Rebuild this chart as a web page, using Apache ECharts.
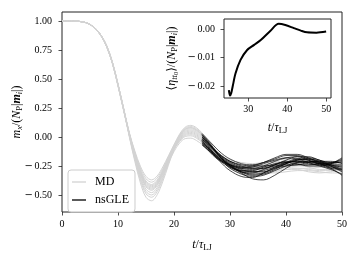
<!DOCTYPE html>
<html><head><meta charset="utf-8">
<script src="https://cdn.jsdelivr.net/npm/echarts@6/dist/echarts.min.js"></script>
<style>html,body{margin:0;padding:0;background:#fff}#c{width:360px;height:260px}</style>
</head><body><div id="c"></div>
<script>
// ---- data ----
const tMD = [0,2,4,5,6,7,8,9,10,11,12,13,14,15,16,17,18,19,20,21,22,23,24,25,26,27,28,30,32,34,36,38,40,42,44,46,48,50];
const md1  = [1,1,0.99,0.97,0.935,0.875,0.785,0.645,0.455,0.25,0.042,-0.12,-0.252,-0.34,-0.37,-0.336,-0.258,-0.163,-0.069,0.011,0.067,0.08,0.06,0.017,-0.039,-0.095,-0.151,-0.21,-0.25,-0.27,-0.26,-0.23,-0.20,-0.19,-0.21,-0.24,-0.26,-0.25];
const md2  = [1,1,0.99,0.97,0.935,0.87,0.78,0.64,0.45,0.24,0.038,-0.13,-0.268,-0.36,-0.39,-0.354,-0.272,-0.172,-0.067,0.025,0.085,0.10,0.08,0.035,-0.025,-0.085,-0.145,-0.20,-0.22,-0.23,-0.22,-0.21,-0.21,-0.23,-0.26,-0.28,-0.28,-0.26];
const md3  = [1,1,0.99,0.97,0.93,0.87,0.775,0.635,0.445,0.235,0.034,-0.14,-0.284,-0.38,-0.41,-0.372,-0.286,-0.181,-0.092,-0.024,0.022,0.03,0.01,-0.028,-0.074,-0.12,-0.166,-0.25,-0.30,-0.31,-0.30,-0.28,-0.26,-0.25,-0.25,-0.26,-0.27,-0.28];
const md4  = [1,1,0.99,0.97,0.935,0.875,0.785,0.645,0.455,0.245,0.032,-0.145,-0.292,-0.39,-0.42,-0.381,-0.293,-0.185,-0.085,-0.003,0.049,0.06,0.04,-0.001,-0.053,-0.105,-0.157,-0.24,-0.29,-0.32,-0.32,-0.30,-0.28,-0.27,-0.28,-0.29,-0.29,-0.29];
const md5  = [1,1,0.99,0.97,0.935,0.875,0.78,0.64,0.45,0.24,0.03,-0.15,-0.30,-0.40,-0.43,-0.39,-0.30,-0.19,-0.081,0.011,0.067,0.08,0.06,0.017,-0.039,-0.095,-0.151,-0.22,-0.26,-0.26,-0.24,-0.22,-0.22,-0.24,-0.25,-0.24,-0.22,-0.21];
const md6  = [1,1,0.99,0.97,0.93,0.87,0.775,0.635,0.44,0.23,0.028,-0.155,-0.308,-0.41,-0.44,-0.399,-0.307,-0.195,-0.104,-0.038,0.004,0.01,-0.01,-0.046,-0.088,-0.13,-0.172,-0.24,-0.28,-0.30,-0.31,-0.31,-0.30,-0.29,-0.29,-0.30,-0.31,-0.31];
const md7  = [1,1,0.99,0.97,0.935,0.875,0.78,0.64,0.45,0.24,0.026,-0.16,-0.316,-0.42,-0.45,-0.408,-0.314,-0.199,-0.094,-0.01,0.04,0.05,0.03,-0.01,-0.06,-0.11,-0.16,-0.23,-0.27,-0.29,-0.28,-0.26,-0.24,-0.22,-0.22,-0.23,-0.24,-0.24];
const md8  = [1,1,0.99,0.97,0.935,0.875,0.785,0.645,0.455,0.245,0.024,-0.165,-0.324,-0.43,-0.46,-0.417,-0.321,-0.204,-0.09,0.004,0.058,0.07,0.05,0.008,-0.046,-0.10,-0.154,-0.21,-0.24,-0.25,-0.25,-0.25,-0.26,-0.27,-0.27,-0.26,-0.24,-0.22];
const md9  = [1,1,0.99,0.97,0.93,0.87,0.775,0.635,0.445,0.235,0.02,-0.175,-0.34,-0.45,-0.48,-0.435,-0.335,-0.213,-0.109,-0.031,0.013,0.02,0.0,-0.037,-0.081,-0.125,-0.169,-0.26,-0.31,-0.33,-0.32,-0.29,-0.26,-0.24,-0.24,-0.25,-0.27,-0.30];
const md10 = [1,1,0.99,0.97,0.935,0.875,0.78,0.64,0.45,0.24,0.016,-0.185,-0.356,-0.47,-0.50,-0.453,-0.349,-0.222,-0.107,-0.017,0.031,0.04,0.02,-0.019,-0.067,-0.115,-0.163,-0.25,-0.29,-0.30,-0.28,-0.25,-0.22,-0.21,-0.22,-0.24,-0.26,-0.27];
const md11 = [1,1,0.99,0.97,0.93,0.87,0.775,0.635,0.44,0.23,0.012,-0.195,-0.372,-0.49,-0.52,-0.471,-0.363,-0.23,-0.126,-0.052,-0.014,-0.01,-0.03,-0.064,-0.102,-0.14,-0.178,-0.27,-0.31,-0.32,-0.31,-0.29,-0.28,-0.28,-0.30,-0.31,-0.30,-0.28];
const md12 = [1,1,0.99,0.97,0.935,0.875,0.785,0.645,0.455,0.245,0.006,-0.21,-0.396,-0.52,-0.55,-0.498,-0.384,-0.244,-0.102,0.018,0.076,0.09,0.07,0.026,-0.032,-0.09,-0.148,-0.22,-0.25,-0.24,-0.22,-0.20,-0.19,-0.20,-0.22,-0.24,-0.25,-0.24];

const tGLE = [25,26,27,28,29,30,32,34,36,38,40,42,44,46,48,50];
const g1  = [0.03,-0.02,-0.07,-0.12,-0.16,-0.19,-0.23,-0.24,-0.22,-0.19,-0.16,-0.16,-0.19,-0.22,-0.23,-0.21];
const g2  = [0.02,-0.03,-0.09,-0.15,-0.20,-0.24,-0.30,-0.33,-0.32,-0.28,-0.23,-0.19,-0.18,-0.20,-0.24,-0.28];
const g3  = [0.01,-0.04,-0.10,-0.16,-0.21,-0.25,-0.31,-0.36,-0.37,-0.33,-0.27,-0.22,-0.21,-0.23,-0.26,-0.27];
const g4  = [0.00,-0.05,-0.10,-0.15,-0.19,-0.22,-0.26,-0.27,-0.25,-0.21,-0.18,-0.17,-0.20,-0.24,-0.27,-0.28];
const g5  = [-0.01,-0.06,-0.11,-0.16,-0.20,-0.23,-0.27,-0.28,-0.27,-0.24,-0.20,-0.17,-0.17,-0.20,-0.22,-0.20];
const g6  = [-0.02,-0.07,-0.13,-0.18,-0.22,-0.26,-0.30,-0.31,-0.28,-0.24,-0.21,-0.21,-0.23,-0.24,-0.23,-0.19];
const g7  = [-0.03,-0.08,-0.14,-0.19,-0.23,-0.27,-0.32,-0.34,-0.33,-0.29,-0.25,-0.22,-0.22,-0.23,-0.25,-0.25];
const g8  = [-0.04,-0.09,-0.14,-0.18,-0.21,-0.24,-0.27,-0.26,-0.23,-0.20,-0.18,-0.19,-0.22,-0.25,-0.28,-0.32];
const g9  = [-0.05,-0.10,-0.15,-0.19,-0.22,-0.25,-0.29,-0.30,-0.29,-0.26,-0.24,-0.24,-0.24,-0.23,-0.22,-0.22];
const g10 = [-0.06,-0.11,-0.16,-0.20,-0.23,-0.26,-0.30,-0.32,-0.31,-0.27,-0.23,-0.20,-0.19,-0.21,-0.25,-0.30];
const g11 = [-0.07,-0.11,-0.15,-0.19,-0.22,-0.24,-0.26,-0.25,-0.22,-0.18,-0.15,-0.15,-0.18,-0.22,-0.24,-0.24];
const g12 = [0.02,-0.04,-0.10,-0.16,-0.21,-0.25,-0.29,-0.29,-0.26,-0.23,-0.22,-0.23,-0.25,-0.25,-0.23,-0.18];
const g13 = [-0.02,-0.06,-0.11,-0.15,-0.18,-0.21,-0.24,-0.25,-0.25,-0.24,-0.22,-0.21,-0.21,-0.22,-0.25,-0.29];
const g14 = [-0.03,-0.09,-0.15,-0.20,-0.25,-0.29,-0.34,-0.35,-0.31,-0.26,-0.22,-0.19,-0.20,-0.23,-0.27,-0.33];
const g15 = [0.00,-0.05,-0.10,-0.14,-0.18,-0.21,-0.25,-0.27,-0.27,-0.25,-0.23,-0.20,-0.19,-0.21,-0.24,-0.26];
const g16 = [-0.05,-0.09,-0.13,-0.17,-0.21,-0.24,-0.28,-0.30,-0.30,-0.27,-0.25,-0.24,-0.22,-0.21,-0.21,-0.23];

const tInset = [25,25.3,25.6,26,26.7,28,29.7,31.5,33.2,35.7,37.8,39.5,41.7,43.5,45.1,47.5,50];
const vInset = [-0.0214,-0.0233,-0.0225,-0.0200,-0.0156,-0.0108,-0.0073,-0.0055,-0.0038,-0.0005,0.0019,0.0015,0.0004,-0.0005,-0.0011,-0.0012,-0.0008];

const mainYTicks = [-0.5,-0.25,0,0.25,0.5,0.75,1.0];
const insetXTicks = [30,40,50];
const insetYTicks = [-0.02,-0.01,0];
const legendNames = ['MD','nsGLE'];

// ---- chart ----
const F = "'Liberation Serif','DejaVu Serif',serif";
const mdCurves = [md1,md2,md3,md4,md5,md6,md7,md8,md9,md10,md11,md12];
const gleCurves = [g1,g2,g3,g4,g5,g6,g7,g8,g9,g10,g11,g12,g13,g14,g15,g16];
const pairs = (ts, vs) => ts.map((t, i) => [t, vs[i]]);
const fmt = d => v => (Number(v) < -1e-9 ? '{m|\u2212}{g| }' : '') + '{d|' + Math.abs(Number(v)).toFixed(d) + '}';

const rich = {
  i: {fontFamily: F, fontStyle: 'italic', fontSize: 12, color: '#000'},
  n: {fontFamily: F, fontSize: 12, color: '#000'},
  b: {fontFamily: F, fontStyle: 'italic', fontWeight: 'bold', fontSize: 12, color: '#000'},
  s: {fontFamily: F, fontStyle: 'italic', fontSize: 8.5, color: '#000', padding: [6, 0, 0, 0]},
  r: {fontFamily: F, fontSize: 8.5, color: '#000', padding: [6, 0, 0, 0]},
  ss: {fontFamily: F, fontSize: 6.5, color: '#000', padding: [9, 0, 0, 0]}
};
const tickRich = {
  m: {fontFamily: "'DejaVu Serif',serif", fontSize: 10, color: '#000', align: 'right'},
  g: {fontFamily: F, fontSize: 6, color: '#000', align: 'right'},
  d: {fontFamily: F, fontSize: 10, color: '#000', align: 'right'}
};
const tickLabel = {fontFamily: F, fontSize: 10, color: '#000'};
const tick = {show: true, length: 3.5, lineStyle: {color: '#222', width: 0.8}};
const noLine = {show: false, onZero: false};

const series = [];
mdCurves.forEach(v => series.push({
  type: 'line', name: 'MD', xAxisIndex: 0, yAxisIndex: 0, data: pairs(tMD, v),
  symbol: 'none', smooth: 0.35, color: '#d3d3d3',
  lineStyle: {color: '#d3d3d3', width: 1}, silent: true, z: 2
}));
gleCurves.forEach(v => series.push({
  type: 'line', name: 'nsGLE', xAxisIndex: 0, yAxisIndex: 0, data: pairs(tGLE, v),
  symbol: 'none', smooth: 0.35, color: '#000',
  lineStyle: {color: '#000', width: 0.7}, silent: true, z: 3
}));
series.push({
  type: 'line', name: 'inset', xAxisIndex: 1, yAxisIndex: 1, data: pairs(tInset, vInset),
  symbol: 'none', smooth: 0.3, color: '#000',
  lineStyle: {color: '#000', width: 2}, silent: true, z: 6
});

const chart = echarts.init(document.getElementById('c'), null, {renderer: 'canvas'});
chart.setOption({
  animation: false,
  backgroundColor: '#fff',
  grid: [
    {left: 62, top: 12, width: 280, height: 200, show: true, borderColor: '#222', borderWidth: 1,
     backgroundColor: 'transparent', containLabel: false, outerBoundsMode: 'none', z: 1},
    {left: 224, top: 19, width: 107, height: 79, show: true, borderColor: '#222', borderWidth: 1,
     backgroundColor: '#fff', containLabel: false, outerBoundsMode: 'none', z: 5}
  ],
  legend: {
    data: legendNames, orient: 'vertical', left: 68, top: 170,
    icon: 'rect', itemWidth: 14, itemHeight: 1.3, itemGap: 4,
    padding: [5, 6, 5, 4],
    backgroundColor: 'rgba(255,255,255,0.85)', borderColor: '#cccccc', borderWidth: 1, borderRadius: 3,
    textStyle: {fontFamily: F, fontSize: 12, color: '#000', padding: [0, 0, 0, 4], lineHeight: 14},
    selectedMode: false, z: 10
  },
  xAxis: [
    {type: 'value', gridIndex: 0, min: 0, max: 50, interval: 10,
     axisLine: noLine, splitLine: {show: false}, axisTick: tick,
     axisLabel: Object.assign({margin: 7, formatter: v => String(v)}, tickLabel),
     name: '{i|t}{n|/}{i|τ}{r|LJ}', nameLocation: 'middle', nameGap: 25,
     nameTextStyle: {rich: rich}},
    {type: 'value', gridIndex: 1, min: 23.75, max: 51.25,
     axisLine: noLine, splitLine: {show: false},
     axisTick: Object.assign({customValues: insetXTicks}, tick),
     axisLabel: Object.assign({margin: 6, customValues: insetXTicks, formatter: v => String(v)}, tickLabel),
     name: '{i|t}{n|/}{i|τ}{r|LJ}', nameLocation: 'middle', nameGap: 22,
     nameTextStyle: {rich: rich}}
  ],
  yAxis: [
    {type: 'value', gridIndex: 0, min: -0.647, max: 1.078,
     axisLine: noLine, splitLine: {show: false},
     axisTick: Object.assign({customValues: mainYTicks}, tick),
     axisLabel: Object.assign({margin: 10, customValues: mainYTicks, formatter: fmt(2), rich: tickRich,
       width: 40, overflow: 'none', align: 'right'}, tickLabel),
     name: '{i|m}{s|x}{n|/(}{i|N}{r|P}{n||}{b|m}{s|i}{n||)}', nameLocation: 'middle', nameGap: 38, nameRotate: 90,
     nameMoveOverlap: false,
     nameTextStyle: {rich: rich}},
    {type: 'value', gridIndex: 1, min: -0.0242, max: 0.0036,
     axisLine: noLine, splitLine: {show: false},
     axisTick: Object.assign({customValues: insetYTicks}, tick),
     axisLabel: Object.assign({margin: 9, customValues: insetYTicks, formatter: fmt(2), rich: tickRich,
       overflow: 'none', align: 'right'}, tickLabel),
     name: '{n|⟨}{i|η}{s|tt}{ss|0}{n|⟩/(}{i|N}{r|P}{n||}{b|m}{s|i}{n||)}', nameLocation: 'middle', nameGap: 44, nameRotate: 90,
     nameMoveOverlap: false,
     nameTextStyle: {rich: rich}}
  ],
  series: series
});
</script></body></html>
